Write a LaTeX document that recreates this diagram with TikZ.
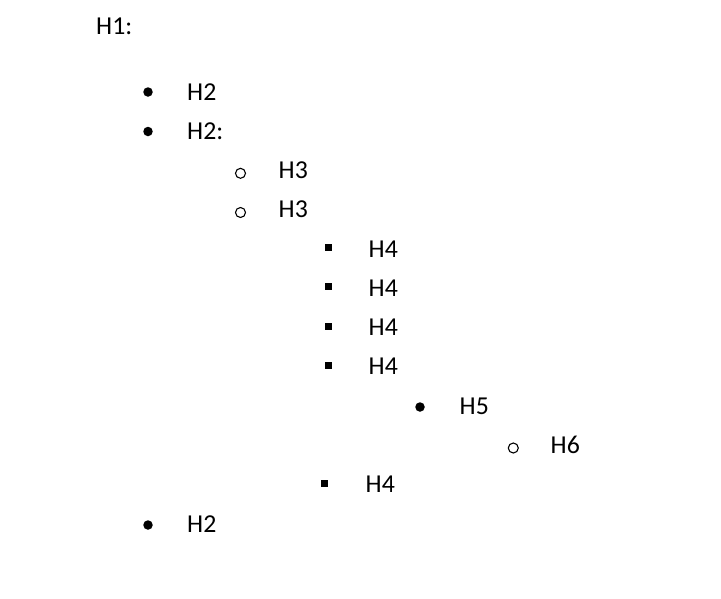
\documentclass[tikz,border=0pt]{standalone}
\usepackage{fontspec}
\setmainfont{Carlito}
\begin{document}
\begin{tikzpicture}[x=1pt,y=-1pt,
  txt/.style={anchor=base west,inner sep=0pt,font=\fontsize{25.8}{30}\selectfont},
  disc/.style={circle,fill=black,inner sep=0pt,minimum size=9.5pt},
  ring/.style={circle,draw=black,line width=1.1pt,inner sep=0pt,minimum size=10pt},
  sq/.style={rectangle,fill=black,inner sep=0pt,minimum size=7pt}]
\useasboundingbox[fill=white] (0,0) rectangle (721,598);
\node[txt] (h1) at (96,34.5) {H1:};
% H2
\node[disc] (b1) at (148,92) {};
\node[txt] (t1) at (187,100.3) {H2};
\node[disc] (b2) at (148,131.5) {};
\node[txt] (t2) at (187,139.5) {H2:};
% H3
\node[ring] (b3) at (240.5,173.3) {};
\node[txt] (t3) at (278.5,178.5) {H3};
\node[ring] (b4) at (240.5,212.5) {};
\node[txt] (t4) at (278.5,217.7) {H3};
% H4
\node[sq] (b5) at (328.5,247.7) {};
\node[txt] (t5) at (368.5,257) {H4};
\node[sq] (b6) at (328.5,286.9) {};
\node[txt] (t6) at (368.5,296.2) {H4};
\node[sq] (b7) at (328.5,326.1) {};
\node[txt] (t7) at (368.5,335.4) {H4};
\node[sq] (b8) at (328.5,365.3) {};
\node[txt] (t8) at (368.5,374.6) {H4};
% H5
\node[disc] (b9) at (420,407) {};
\node[txt] (t9) at (459.5,414.2) {H5};
% H6
\node[ring] (b10) at (513.3,448) {};
\node[txt] (t10) at (550.5,453.4) {H6};
% H4
\node[sq] (b11) at (324.5,483) {};
\node[txt] (t11) at (365.5,492.6) {H4};
% H2
\node[disc] (b12) at (148,525) {};
\node[txt] (t12) at (187,532) {H2};
\end{tikzpicture}
\end{document}
